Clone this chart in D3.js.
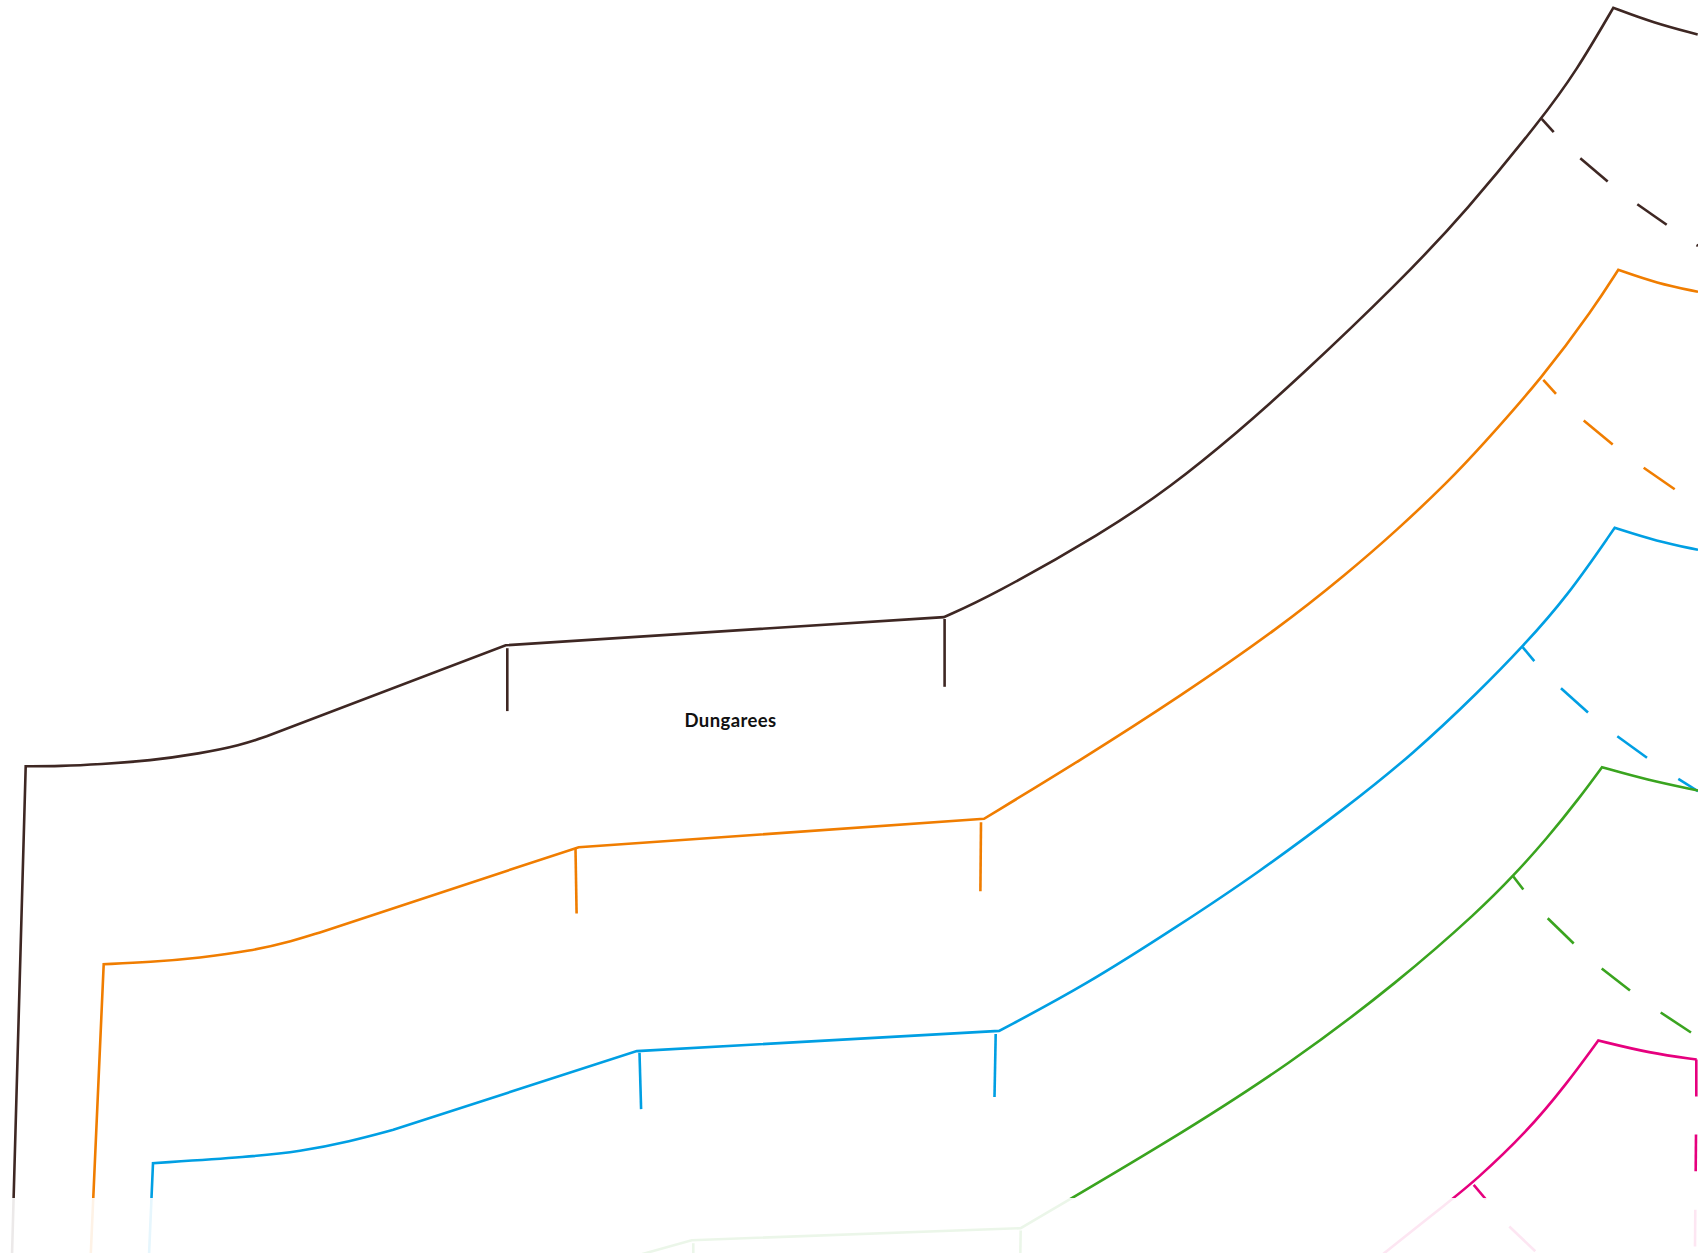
<!DOCTYPE html>
<html>
<head>
<meta charset="utf-8">
<script src="https://cdn.jsdelivr.net/npm/d3@7"></script>
<style>
  body { margin: 0; background: #fff; }
  svg { display: block; }
  .label { font-family: Lato, sans-serif; font-weight: 700; font-size: 18.5px; letter-spacing: 0.4px; fill: #111; }
</style>
</head>
<body>
<svg width="1701" height="1255"></svg>
<script>
const svg = d3.select("svg")

const width = +svg.attr("width")
const height = +svg.attr("height")

// pattern piece outlines, one array per seam
const brownSide = [[12, 1255], [25.7, 765.8]]
const brownHip = [[25.7, 765.8], [60, 765.6], [100, 763.8], [150, 760.2], [200, 753], [240, 745], [266.7, 735.8]]
const brownRise = [[266.7, 735.8], [505.7, 644.8]]
const brownWaist = [[505.7, 644.8], [943.8, 616.6]]
const brownCurve = [[943.8, 616.6], [989.8, 596.3], [1104.6, 531.3], [1169.6, 487.3], [1238.5, 431], [1295.9, 380.1], [1400, 281], [1466.7, 210], [1541.7, 118.3], [1576.7, 70], [1613.3, 7.3]]
const brownTop = [[1613.3, 7.3], [1653.3, 22.3], [1697.7, 34]]
const brownTicks = [
  [[507.3, 647.7], [507.3, 710.6]],
  [[944.6, 618.5], [944.6, 686.3]],
  [[1541.7, 118.3], [1553.7, 131.7]],
  [[1580.3, 157.7], [1607.7, 181]],
  [[1637.3, 203.7], [1666.7, 224.3]],
  [[1696.5, 244.5], [1698, 245.3]]
]

const orangeSide = [[90.7, 1255], [103.7, 963.7]]
const orangeHip = [[103.7, 963.7], [150, 961.7], [200, 957.3], [250, 950.7], [293.3, 940.4], [320, 931.9]]
const orangeRise = [[320, 931.9], [578.7, 846.7]]
const orangeWaist = [[578.7, 846.7], [984, 818.3]]
const orangeCurve = [[984, 818.3], [1080, 760], [1180, 696], [1280, 626.7], [1346.7, 573.3], [1396.7, 530], [1449.3, 480], [1480, 447.3], [1543.3, 376], [1593.3, 308.3], [1618.3, 269.3]]
const orangeTop = [[1618.3, 269.3], [1656.7, 282.7], [1698, 291.3]]
const orangeTicks = [
  [[575.5, 848.3], [576.6, 912.9]],
  [[981, 821.8], [980.4, 890.7]],
  [[1543.3, 379.3], [1556, 393.3]],
  [[1583.7, 420], [1612.7, 444]],
  [[1643.7, 467.3], [1674.7, 488.7]]
]

const blueSide = [[149, 1255], [153, 1162.7]]
const blueHip = [[153, 1162.7], [250, 1156.4], [300, 1151], [350, 1141], [393.3, 1129.3]]
const blueRise = [[393.3, 1129.3], [636.8, 1050.6]]
const blueWaist = [[636.8, 1050.6], [999.1, 1030.4]]
const blueCurve = [[999.1, 1030.4], [1085, 985], [1180, 924.3], [1256.7, 873.3], [1346.7, 806.7], [1413.3, 753.3], [1480, 690], [1522.7, 646], [1566.7, 596.7], [1614.7, 527.3]]
const blueTop = [[1614.7, 527.3], [1656.7, 540.7], [1698, 549.3]]
const blueTicks = [
  [[639.5, 1052.3], [641.1, 1108.6]],
  [[995.7, 1033.4], [994.5, 1096.6]],
  [[1522.7, 646.7], [1534.3, 660.7]],
  [[1561, 687.7], [1588, 712]],
  [[1617.3, 735.7], [1647, 757.3]],
  [[1678.3, 778.3], [1698, 790.7]]
]

const greenHip = [[630, 1257], [691.7, 1239.7]]
const greenWaist = [[691.7, 1239.7], [1020.7, 1227.7]]
const greenCurve = [[1020.7, 1227.7], [1171.4, 1139.4], [1290, 1063.5], [1400, 980], [1480, 909.3], [1513.5, 875.2], [1546.7, 838.3], [1580, 796.7], [1602, 766.7]]
const greenTop = [[1602, 766.7], [1646.7, 779.3], [1698, 790]]
const greenTicks = [
  [[693.3, 1242.7], [693.3, 1255]],
  [[1020.7, 1230], [1020.3, 1255]],
  [[1513.3, 876], [1523.3, 889]],
  [[1547.7, 917.7], [1573.7, 943]],
  [[1601.7, 968], [1630, 990]],
  [[1660.7, 1012], [1691, 1032]]
]

const pinkCurve = [[1380, 1256], [1453.3, 1197.7], [1473.7, 1181.5], [1526.7, 1131.7], [1566.7, 1083.3], [1598.3, 1040]]
const pinkTop = [[1598.3, 1040], [1650, 1052.7], [1696.7, 1059]]
const pinkTicks = [
  [[1473.7, 1184.3], [1486, 1199]],
  [[1509.3, 1226], [1535.3, 1250.7]],
  [[1696.3, 1059], [1696.3, 1096]],
  [[1696, 1134], [1695.7, 1170.7]],
  [[1695.3, 1209.3], [1695, 1246]]
]

const labelText = "Dungarees"
const labelPoint = [684.5, 726.5]

const pieces = [
  { color: "#3e2723", seams: [brownSide, brownHip, brownRise, brownWaist, brownCurve, brownTop], ticks: brownTicks },
  { color: "#f07d00", seams: [orangeSide, orangeHip, orangeRise, orangeWaist, orangeCurve, orangeTop], ticks: orangeTicks },
  { color: "#009fe3", seams: [blueSide, blueHip, blueRise, blueWaist, blueCurve, blueTop], ticks: blueTicks },
  { color: "#3aa41f", seams: [greenHip, greenWaist, greenCurve, greenTop], ticks: greenTicks },
  { color: "#e6007e", seams: [pinkCurve, pinkTop], ticks: pinkTicks }
]

const xScale = d3.scaleLinear().domain([0, width]).range([0, width])
const yScale = d3.scaleLinear().domain([0, height]).range([0.5, height + 0.5])

// basis irons out the small reading errors, the ends stay on the corners
const curveLine = d3.line()
  .x(d => xScale(d[0]))
  .y(d => yScale(d[1]))
  .curve(d3.curveBasis)

const straightLine = d3.line()
  .x(d => xScale(d[0]))
  .y(d => yScale(d[1]))

// one path per piece so the corners get a proper join
const seamPath = seams => seams
  .map(s => s.length > 2 ? curveLine(s) : straightLine(s))
  .map((s, i) => i ? s.replace(/^M/, "L") : s)
  .join("")

svg.append("clipPath")
  .attr("id", "page")
  .append("rect")
  .attr("width", 1698)
  .attr("height", 1253)

const g = svg.append("g").attr("clip-path", "url(#page)")

const piece = g.selectAll("g").data(pieces)
  .enter().append("g")
  .attr("fill", "none")
  .attr("stroke", d => d.color)
  .attr("stroke-width", 2.6)

piece.append("path")
  .attr("stroke-linejoin", "miter")
  .attr("d", d => seamPath(d.seams))

piece.selectAll(".tick").data(d => d.ticks)
  .enter().append("path")
  .attr("class", "tick")
  .attr("d", straightLine)

// bottom strip of the page is washed out
svg.append("rect")
  .attr("x", 0)
  .attr("y", 1198)
  .attr("width", width)
  .attr("height", height - 1198)
  .attr("fill", "#fff")
  .attr("opacity", 0.9)

svg.append("text")
  .attr("class", "label")
  .attr("x", xScale(labelPoint[0]))
  .attr("y", yScale(labelPoint[1]))
  .text(labelText)
</script>
</body>
</html>
